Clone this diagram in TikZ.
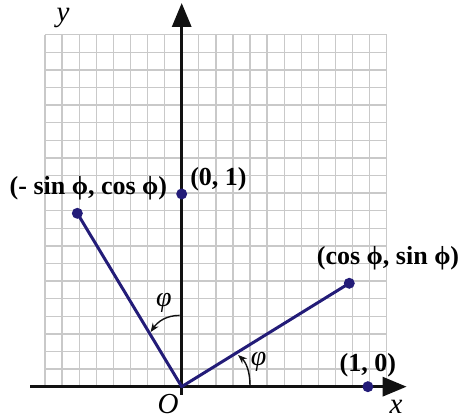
\documentclass[tikz,border=0pt]{standalone}
\usepackage{fontspec}
\setmainfont{Liberation Serif}
\usetikzlibrary{arrows.meta}
\definecolor{gridc}{HTML}{C9C9C9}
\definecolor{vecc}{HTML}{231C78}
\definecolor{axisc}{HTML}{111111}
\tikzset{
  gridline/.style={draw=gridc, line width=1.3pt},
  axisline/.style={draw=axisc, line width=3.2pt, -{Triangle[length=24pt,width=19pt]}},
  vecline/.style={draw=vecc, line width=3pt},
  dotnode/.style={circle, fill=vecc, inner sep=0pt, minimum size=11pt},
  coordlabel/.style={font=\fontsize{26}{28}\selectfont\bfseries, inner sep=0pt},
  axislabel/.style={font=\fontsize{29}{31}\selectfont\itshape, inner sep=0pt},
  anglearrow/.style={draw=axisc, line width=1.4pt, -{Stealth[length=9pt,width=7pt]}},
  anglelabel/.style={font=\fontsize{28}{30}\selectfont\itshape, inner sep=0pt}
}
\begin{document}
\begin{tikzpicture}[x=17.08pt,y=17.6pt]
\useasboundingbox (-10.638,-1.835) rectangle (16.352,21.97);
% grid
\foreach \i in {-8,...,12} \draw[gridline] (\i,0) -- (\i,20);
\foreach \j in {1,...,20} \draw[gridline] (-8,\j) -- (12,\j);
% axes
\coordinate (O) at (0,0);
\coordinate (xs) at (-8.88,0);
\coordinate (xe) at (13.17,0);
\coordinate (ys) at (0,-0.47);
\coordinate (ye) at (0,21.8);
\draw[axisline] (xs) -- (xe);
\draw[axisline] (ys) -- (ye);
% vectors
\coordinate (A) at (9.81,5.875);
\coordinate (B) at (-6.11,9.85);
\coordinate (E1) at (10.9,0);
\coordinate (E2) at (0,10.95);
\draw[vecline, line join=round] (A) -- (O) -- (B);
\node[dotnode] (dA) at (A) {};
\node[dotnode] (dB) at (B) {};
\node[dotnode] (dE1) at (E1) {};
\node[dotnode] (dE2) at (E2) {};
% angle arrows
\coordinate (a1s) at (4.0,0.05);
\coordinate (a1e) at (3.3,1.8);
\draw[anglearrow] (a1s) .. controls (4.0,0.9) and (3.75,1.4) .. (a1e);
\coordinate (a2s) at (-0.12,4.05);
\coordinate (a2e) at (-1.82,3.1);
\draw[anglearrow] (a2s) .. controls (-0.9,4.05) and (-1.4,3.7) .. (a2e);
% labels
\node[axislabel] (ly) at (-6.95,20.95) {y};
\node[axislabel] (lx) at (12.55,-1.12) {x};
\node[axislabel] (lO) at (-0.80,-1.0) {O};
\node[coordlabel] (l01) at (2.15,11.79) {(0, 1)};
\node[coordlabel] (l10) at (10.9,1.23) {(1, 0)};
\node[coordlabel] (lB) at (-5.46,11.28) {(- sin ϕ, cos ϕ)};
\node[coordlabel] (lA) at (12.08,7.31) {(cos ϕ, sin ϕ)};
\node[anglelabel] (p1) at (4.5,1.40) {φ};
\node[anglelabel] (p2) at (-1.04,4.75) {φ};
\end{tikzpicture}
\end{document}
